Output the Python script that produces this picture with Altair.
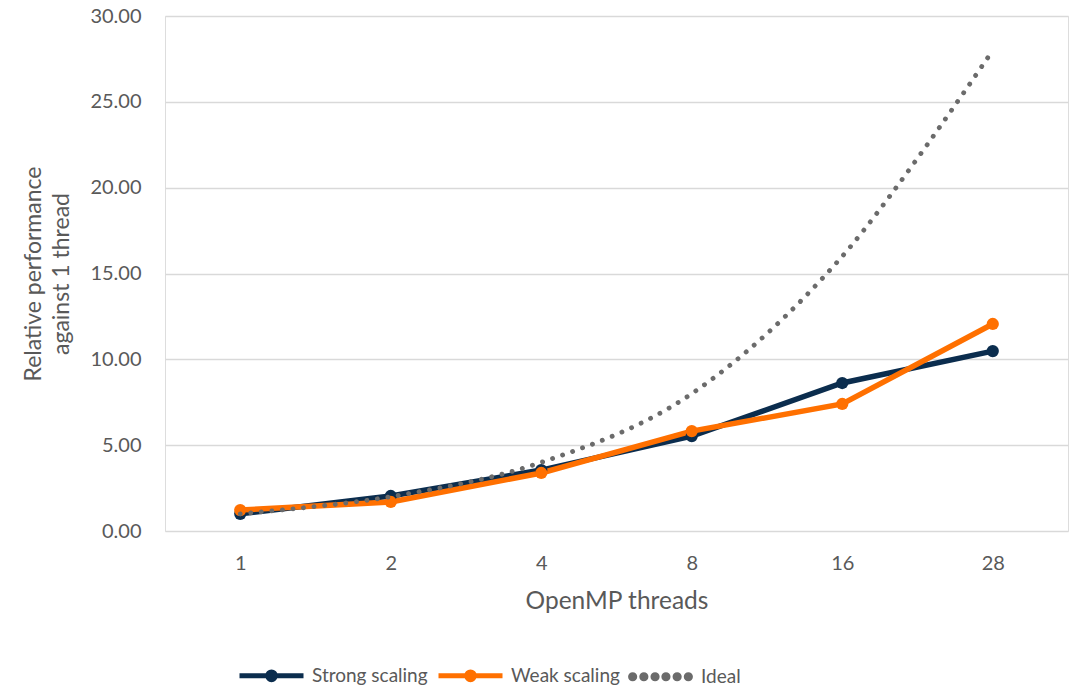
import altair as alt
import pandas as pd

# Thread counts on the x axis and the relative performance of each run
threads = ["1", "2", "4", "8", "16", "28"]
strong_scaling = [1.0, 2.04, 3.55, 5.53, 8.62, 10.48]
weak_scaling = [1.22, 1.69, 3.38, 5.82, 7.4, 12.06]
ideal = [1, 2, 4, 8, 16, 28]

series_names = ["Strong scaling", "Weak scaling", "Ideal"]
series_colors = ["#0b2d4e", "#ff7000", "#6b6b6b"]

# Legend glyphs: a line with a marker in the middle, or a row of dots
marker_glyph = (
    "M-1,0L-0.12,0M0.12,0L1,0"
    "M-0.12,0A0.12,0.12,0,1,1,0.12,0A0.12,0.12,0,1,1,-0.12,0"
)
dot_glyph = "".join(
    f"M{c - 0.065:.3f},0A0.065,0.065,0,1,1,{c + 0.065:.3f},0A0.065,0.065,0,1,1,{c - 0.065:.3f},0Z"
    for c in [-0.87, -0.52, -0.17, 0.17, 0.52, 0.87]
)
series_glyphs = [marker_glyph, marker_glyph, dot_glyph]
glyph_widths = [5, 5, 0]

FONT = "Lato"
TEXT = "#595959"

rows = []
for name, vals in zip(series_names, [strong_scaling, weak_scaling, ideal]):
    for t, v in zip(threads, vals):
        rows.append({"threads": t, "perf": v, "series": name})
df = pd.DataFrame(rows)

legend = alt.Legend(
    title=None,
    orient="none",
    legendX=72,
    legendY=625,
    direction="horizontal",
    symbolSize=4096,
    symbolOpacity=1,
    labelOffset=6,
    columnPadding=0,
    labelFont=FONT,
    labelFontSize=19,
    labelColor=TEXT,
    labelLimit=300,
)

color_scale = alt.Scale(domain=series_names, range=series_colors)
stroke = alt.Stroke("series:N", scale=color_scale, legend=legend)
fill = alt.Fill("series:N", scale=color_scale, legend=legend)
shape = alt.Shape(
    "series:N", scale=alt.Scale(domain=series_names, range=series_glyphs), legend=legend
)
stroke_width = alt.StrokeWidth(
    "series:N", scale=alt.Scale(domain=series_names, range=glyph_widths), legend=legend
)

x = alt.X(
    "threads:N",
    sort=threads,
    scale=alt.Scale(paddingInner=0, paddingOuter=0),
    axis=alt.Axis(
        title="OpenMP threads",
        labelAngle=0,
        domain=False,
        ticks=False,
        labelPadding=22,
        labelFont=FONT,
        labelFontSize=20,
        labelColor=TEXT,
        titleFont=FONT,
        titleFontSize=24.5,
        titleFontWeight="normal",
        titleColor=TEXT,
        titlePadding=16,
    ),
)
y = alt.Y(
    "perf:Q",
    scale=alt.Scale(domain=[0, 30], nice=False),
    axis=alt.Axis(
        title=["Relative performance", "against 1 thread"],
        values=[0, 5, 10, 15, 20, 25, 30],
        format=".2f",
        domain=False,
        ticks=False,
        grid=True,
        gridColor="#d9d9d9",
        gridWidth=1.5,
        labelPadding=24,
        labelFont=FONT,
        labelFontSize=20,
        labelColor=TEXT,
        titleFont=FONT,
        titleFontSize=23,
        titleFontWeight="normal",
        titleColor=TEXT,
        titlePadding=16,
        titleLineHeight=28,
    ),
)

base = alt.Chart(df)

# Empty layer that only carries the legend glyphs
legend_layer = (
    base.transform_filter("false")
    .mark_point(filled=True, opacity=1)
    .encode(x=x, y=y, fill=fill, stroke=stroke, shape=shape, strokeWidth=stroke_width)
)

measured = base.transform_filter(alt.datum.series != "Ideal")

measured_lines = measured.mark_line(strokeWidth=5.5, strokeCap="round").encode(
    x=x, y=y, stroke=stroke
)
measured_points = measured.mark_circle(size=150, opacity=1).encode(
    x=x, y=y, fill=fill
)

ideal_line = (
    base.transform_filter(alt.datum.series == "Ideal")
    .mark_line(
        strokeWidth=4.8,
        strokeCap="round",
        strokeDash=[0.1, 10.5],
        interpolate="cardinal",
        tension=0,
    )
    .encode(x=x, y=y, stroke=stroke)
)

chart = (
    alt.layer(legend_layer, measured_lines, measured_points, ideal_line)
    .properties(
        width=903,
        height=515,
        padding={"left": 165, "top": 16, "right": 13, "bottom": 158},
        autosize=alt.AutoSizeParams(type="none"),
    )
    .configure_view(stroke=None)
    .configure(font=FONT)
)

chart.save("out.html", embed_options={"renderer": "svg", "actions": False})
